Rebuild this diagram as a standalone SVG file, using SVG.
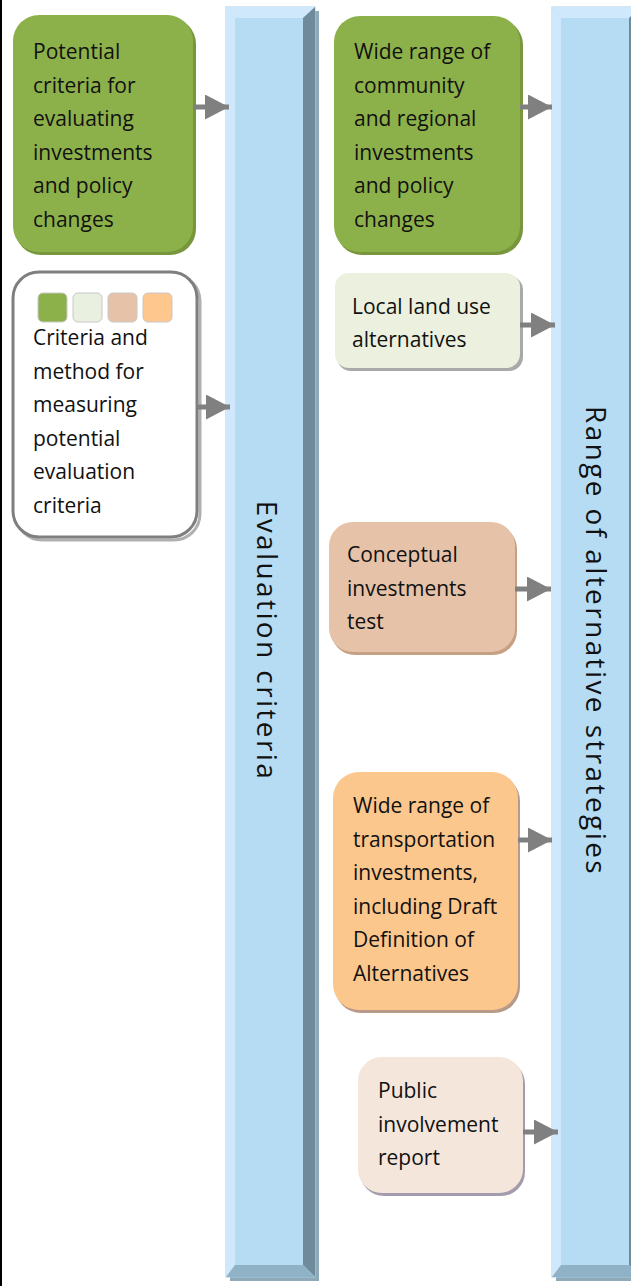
<svg xmlns="http://www.w3.org/2000/svg" width="631" height="1286" viewBox="0 0 631 1286">
<style>
.t{font-family:"Open Sans","Liberation Sans",sans-serif;font-size:21px;fill:#111}
.v{font-family:"Open Sans","Liberation Sans",sans-serif;font-size:28px;fill:#111;letter-spacing:2.4px}
.face{fill:#b6dcf4;stroke:#a8cde6;stroke-width:1}
.lt{fill:#cfe8fb}
.dk{fill:#6f8b9b}
.bt{fill:#90b2c6}
.sh{fill:#8ea9b8}
.ar{stroke:#808080;stroke-width:5;fill:none;marker-end:url(#ah)}
</style>
<defs>
<marker id="ah" markerUnits="userSpaceOnUse" markerWidth="25" markerHeight="26" refX="24" refY="12.5" orient="auto">
<path d="M0,0 L24,12.5 L0,25 Z" fill="#808080"/>
</marker>
</defs>
<rect x="0" y="0" width="631" height="1286" fill="#fff"/>
<rect x="0" y="0" width="2" height="1286" fill="#000"/>

<g id="bar-evaluation">
<rect class="sh" x="230" y="11" width="89" height="1270"/>
<rect class="face" x="226" y="7" width="89" height="1270"/>
<polygon class="lt" points="226,7 315,7 303,18 235,18"/>
<polygon class="lt" points="226,7 235,18 235,1265 226,1277"/>
<polygon class="dk" points="315,7 315,1277 303,1265 303,18"/>
<polygon class="bt" points="226,1277 235,1265 303,1265 315,1277"/>
<text class="v" x="257" y="641" text-anchor="middle" transform="rotate(90 257 641)">Evaluation criteria</text>
</g>

<g id="bar-range">
<rect class="sh" x="556" y="11" width="89" height="1270"/>
<rect class="face" x="552" y="7" width="89" height="1270"/>
<polygon class="lt" points="552,7 641,7 629,18 561,18"/>
<polygon class="lt" points="552,7 561,18 561,1265 552,1277"/>
<polygon class="dk" points="641,7 641,1277 629,1265 629,18"/>
<polygon class="bt" points="552,1277 561,1265 629,1265 641,1277"/>
<text class="v" x="586" y="641" text-anchor="middle" transform="rotate(90 586 641)">Range of alternative strategies</text>
</g>

<g id="node-potential-criteria">
<rect x="15" y="18" width="181" height="237" rx="26" fill="#78973c"/>
<rect x="13" y="15" width="180" height="237" rx="26" fill="#8db14a"/>
<text class="t" x="33"><tspan x="33" y="59">Potential</tspan><tspan x="33" y="92.5">criteria for</tspan><tspan x="33" y="126">evaluating</tspan><tspan x="33" y="159.5">investments</tspan><tspan x="33" y="193">and policy</tspan><tspan x="33" y="226.5">changes</tspan></text>
</g>

<g id="node-criteria-method">
<rect x="16" y="275" width="184" height="265" rx="26" fill="#fff" stroke="#b0b0b0" stroke-width="3"/>
<rect x="13" y="272" width="184" height="265" rx="26" fill="#fff" stroke="#7f7f7f" stroke-width="3"/>
<rect x="38" y="293" width="29" height="29" rx="5" fill="#8db14a" stroke="#c8c8c8" stroke-width="1"/>
<rect x="73" y="293" width="29" height="29" rx="5" fill="#e9f0df" stroke="#c8c8c8" stroke-width="1"/>
<rect x="108" y="293" width="29" height="29" rx="5" fill="#e6c3a8" stroke="#c8c8c8" stroke-width="1"/>
<rect x="143" y="293" width="29" height="29" rx="5" fill="#fdc78e" stroke="#c8c8c8" stroke-width="1"/>
<text class="t"><tspan x="33" y="345">Criteria and</tspan><tspan x="33" y="378.5">method for</tspan><tspan x="33" y="412">measuring</tspan><tspan x="33" y="445.5">potential</tspan><tspan x="33" y="479">evaluation</tspan><tspan x="33" y="512.5">criteria</tspan></text>
</g>

<g id="node-wide-range-community">
<rect x="336" y="19" width="187" height="236" rx="26" fill="#78973c"/>
<rect x="334" y="16" width="186" height="236" rx="26" fill="#8db14a"/>
<text class="t"><tspan x="354" y="59">Wide range of</tspan><tspan x="354" y="92.5">community</tspan><tspan x="354" y="126">and regional</tspan><tspan x="354" y="159.5">investments</tspan><tspan x="354" y="193">and policy</tspan><tspan x="354" y="226.5">changes</tspan></text>
</g>

<g id="node-local-land-use">
<rect x="337" y="276" width="186" height="95" rx="14" fill="#a9a9aa"/>
<rect x="335" y="273" width="185" height="95" rx="14" fill="#ebf1de"/>
<text class="t"><tspan x="352" y="314">Local land use</tspan><tspan x="352" y="347">alternatives</tspan></text>
</g>

<g id="node-conceptual">
<rect x="331" y="525" width="186" height="130" rx="24" fill="#c7a083"/>
<rect x="329" y="522" width="186" height="130" rx="24" fill="#e6c3a8"/>
<text class="t"><tspan x="347" y="562">Conceptual</tspan><tspan x="347" y="595.5">investments</tspan><tspan x="347" y="629">test</tspan></text>
</g>

<g id="node-transportation">
<rect x="335" y="775" width="185" height="238" rx="26" fill="#b89a88"/>
<rect x="333" y="772" width="185" height="238" rx="26" fill="#fcc78d"/>
<text class="t"><tspan x="353" y="813">Wide range of</tspan><tspan x="353" y="846.5">transportation</tspan><tspan x="353" y="880">investments,</tspan><tspan x="353" y="913.5">including Draft</tspan><tspan x="353" y="947">Definition of</tspan><tspan x="353" y="980.5">Alternatives</tspan></text>
</g>

<g id="node-public-involvement">
<rect x="360" y="1060" width="165" height="136" rx="24" fill="#a39cac"/>
<rect x="358" y="1057" width="165" height="136" rx="24" fill="#f5e6dc"/>
<text class="t"><tspan x="378" y="1098">Public</tspan><tspan x="378" y="1131.5">involvement</tspan><tspan x="378" y="1165">report</tspan></text>
</g>

<g id="connectors">
<line class="ar" x1="193" y1="107" x2="229" y2="107"/>
<line class="ar" x1="197" y1="407" x2="230" y2="407"/>
<line class="ar" x1="520" y1="107" x2="552" y2="107"/>
<line class="ar" x1="520" y1="325" x2="555" y2="325"/>
<line class="ar" x1="515" y1="589" x2="551" y2="589"/>
<line class="ar" x1="518" y1="840" x2="552" y2="840"/>
<line class="ar" x1="523" y1="1132" x2="558" y2="1132"/>
</g>
</svg>
